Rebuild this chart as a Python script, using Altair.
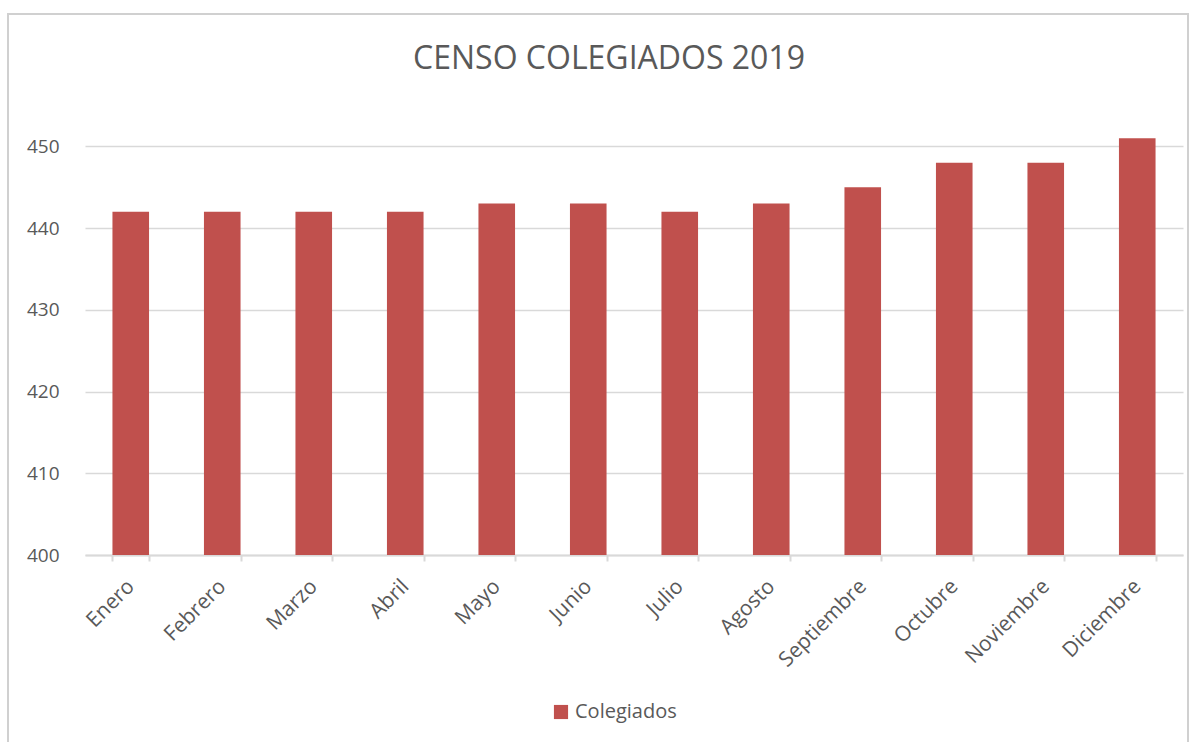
import altair as alt
import pandas as pd

months = ["Enero", "Febrero", "Marzo", "Abril", "Mayo", "Junio", "Julio",
          "Agosto", "Septiembre", "Octubre", "Noviembre", "Diciembre"]
values = [442, 442, 442, 442, 443, 443, 442, 443, 445, 448, 448, 451]
series = ["Colegiados"] * len(months)
y_ticks = [400, 410, 420, 430, 440, 450]

df = pd.DataFrame({"Mes": months, "Valor": values, "Serie": series})

FONT = "Open Sans"
TXT = "#595959"
GRID = "#D9D9D9"
BAR = "#C0504D"

bars = alt.Chart(df).mark_bar(color=BAR, clip=True).encode(
    x=alt.X("Mes:N", sort=months,
            scale=alt.Scale(paddingInner=0.6, paddingOuter=0.3),
            axis=alt.Axis(title=None, labelAngle=-45, labelAlign="right",
                          labelBaseline="middle", labelFontSize=21,
                          labelColor=TXT, labelFont=FONT, labelPadding=22,
                          tickBand="extent", ticks=True, tickSize=6,
                          tickColor=GRID, tickWidth=2, domainColor=GRID,
                          domainWidth=2, grid=False, labelOverlap=False)),
    y=alt.Y("Valor:Q", scale=alt.Scale(domain=[400, 452], nice=False, zero=False),
            axis=alt.Axis(title=None, values=y_ticks, labelFontSize=19,
                          labelColor=TXT, labelFont=FONT, labelPadding=26,
                          ticks=False, domain=False, gridColor=GRID,
                          gridWidth=1.5)),
    fill=alt.Fill("Serie:N", scale=alt.Scale(range=[BAR]),
                  legend=alt.Legend(title=None, orient="none", legendX=466,
                                    legendY=572, symbolType="square",
                                    symbolSize=200, labelFontSize=20,
                                    labelFont=FONT, labelColor=TXT,
                                    symbolStrokeWidth=0, labelOffset=4)),
)

border = alt.Chart(df).mark_rect(fill=None, stroke="#D0D0D0", strokeWidth=1.5).encode(
    x=alt.value(-77), x2=alt.value(1103), y=alt.value(-116), y2=alt.value(640)
)

chart = alt.layer(border, bars).properties(
    width=1098, height=425,
    autosize=alt.AutoSizeParams(type="none"),
    padding={"left": 85, "top": 130, "right": 17, "bottom": 187},
    title=alt.Title("CENSO COLEGIADOS 2019", fontSize=32, font=FONT,
                    color=TXT, fontWeight="normal", anchor="middle",
                    dx=-25, offset=-88, baseline="alphabetic"),
    background="white",
).configure_view(stroke=None)

chart.save("out.html", embed_options={"renderer": "svg", "actions": False})
